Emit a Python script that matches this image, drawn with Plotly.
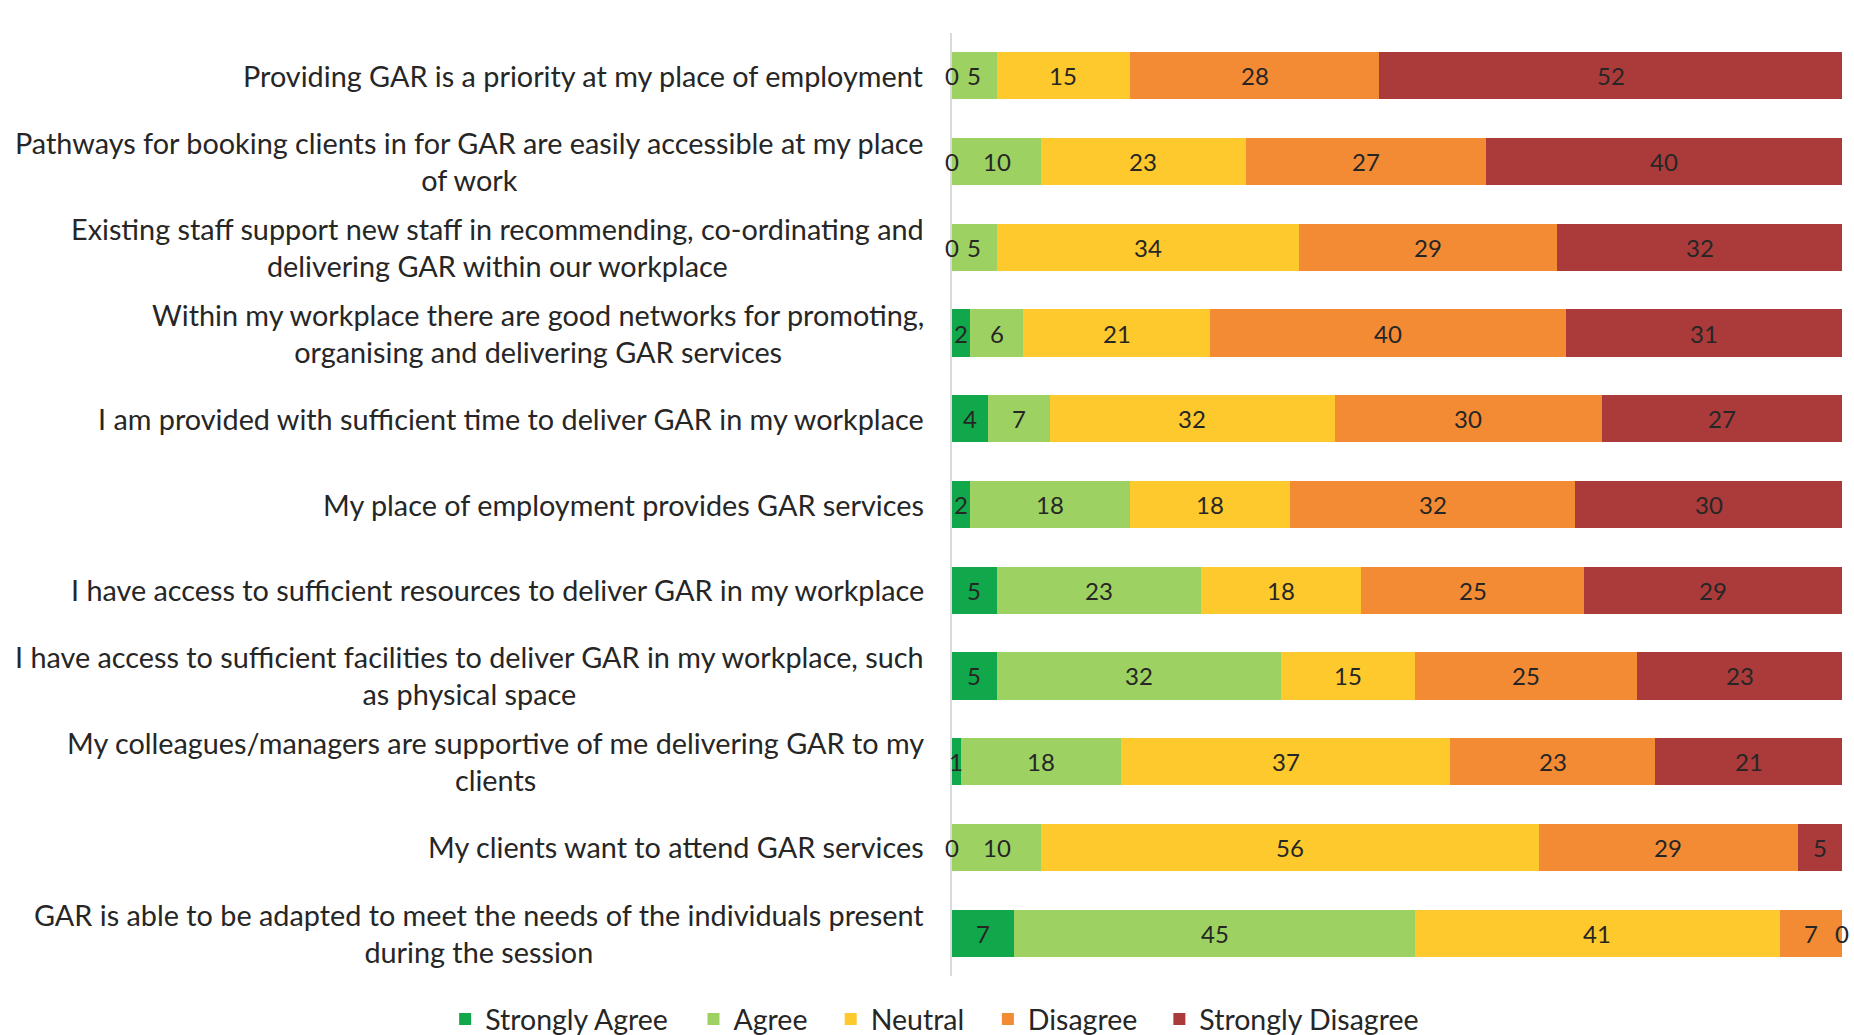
import plotly.graph_objects as go

# Survey statements (top to bottom)
statements = [
    "Providing GAR is a priority at my place of employment",
    "Pathways for booking clients in for GAR are easily accessible at my place<br>of work",
    "Existing staff support new staff in recommending, co-ordinating and<br>delivering GAR within our workplace",
    "Within my workplace there are good networks for promoting,<br>organising and delivering GAR services",
    "I am provided with sufficient time to deliver GAR in my workplace",
    "My place of employment provides GAR services",
    "I have access to sufficient resources to deliver GAR in my workplace",
    "I have access to sufficient facilities to deliver GAR in my workplace, such<br>as physical space",
    "My colleagues/managers are supportive of me delivering GAR to my<br>clients",
    "My clients want to attend GAR services",
    "GAR is able to be adapted to meet the needs of the individuals present<br>during the session",
]

# Percent of responses per category
strongly_agree = [0, 0, 0, 2, 4, 2, 5, 5, 1, 0, 7]
agree = [5, 10, 5, 6, 7, 18, 23, 32, 18, 10, 45]
neutral = [15, 23, 34, 21, 32, 18, 18, 15, 37, 56, 41]
disagree = [28, 27, 29, 40, 30, 32, 25, 25, 23, 29, 7]
strongly_disagree = [52, 40, 32, 31, 27, 30, 29, 23, 21, 5, 0]

series_names = ["Strongly Agree", "Agree", "Neutral", "Disagree", "Strongly Disagree"]
series_values = [strongly_agree, agree, neutral, disagree, strongly_disagree]
series_colors = ["#10A84A", "#9DD262", "#FEC92C", "#F28B33", "#AA3B3A"]

FONT = "Lato"
TEXT_COLOR = "#262626"

# One legend box per series so the entries sit at their own spacing
legend_ids = ["legend", "legend2", "legend3", "legend4", "legend5"]
legend_x = [-0.5695, -0.2905, -0.1363, 0.0403, 0.2330]

idx = list(range(len(statements)))

fig = go.Figure()
for name, vals, col, lg in zip(series_names, series_values, series_colors, legend_ids):
    fig.add_trace(go.Bar(
        y=idx, x=vals, name=name, orientation="h",
        marker=dict(color=col, line=dict(width=0)),
        width=0.55, textposition="none", hoverinfo="x+name",
        legend=lg,
    ))

annotations = []
# Value labels centred on each segment
for i in idx:
    left = 0
    for vals in series_values:
        v = vals[i]
        annotations.append(dict(
            x=left + v / 2, y=i, xref="x", yref="y", text=str(v),
            showarrow=False, xanchor="center", yanchor="middle",
            font=dict(family=FONT, size=24, color=TEXT_COLOR),
        ))
        left += v

# Statement labels, right aligned next to the axis
for i, s in zip(idx, statements):
    annotations.append(dict(
        x=-0.029, y=i, xref="paper", yref="y", text=s,
        showarrow=False, xanchor="right", yanchor="middle", align="center",
        font=dict(family=FONT, size=28.8, color=TEXT_COLOR),
    ))

legend_style = dict(
    orientation="h", xref="paper", xanchor="left",
    y=-0.046, yref="paper", yanchor="middle",
    font=dict(family=FONT, size=28.5, color=TEXT_COLOR),
    itemwidth=30, bgcolor="rgba(0,0,0,0)",
)

layout_legends = {lg: dict(x=lx, **legend_style) for lg, lx in zip(legend_ids, legend_x)}

fig.update_layout(
    width=1854, height=1035,
    margin=dict(l=952, r=12, t=33, b=59, autoexpand=False),
    barmode="stack",
    plot_bgcolor="white", paper_bgcolor="white",
    font=dict(family=FONT, size=24, color=TEXT_COLOR),
    xaxis=dict(range=[0, 100], showgrid=False, zeroline=False, showticklabels=False,
               ticks="", showline=False, fixedrange=True),
    yaxis=dict(range=[10.5, -0.5], showgrid=False, zeroline=False, showticklabels=False,
               ticks="", showline=True, linecolor="#D9D9D9", linewidth=1.5, fixedrange=True),
    annotations=annotations,
    showlegend=True,
    **layout_legends,
)

fig.write_html("out.html")
